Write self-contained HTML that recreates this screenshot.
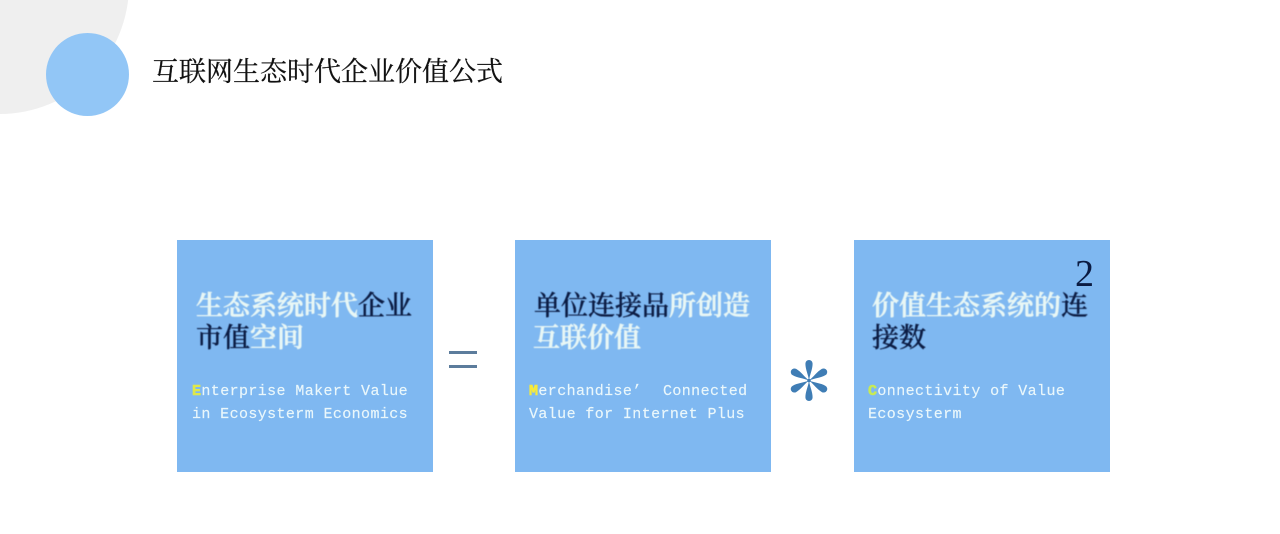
<!DOCTYPE html>
<html lang="zh">
<head>
<meta charset="utf-8">
<style>
html,body{margin:0;padding:0;background:#fff}
#p{position:relative;width:1280px;height:534px;overflow:hidden;background:#fff}
#p div{position:absolute}
.box{top:240px;width:256px;height:232px;background:#7fb8f1}
.t{font-family:"Liberation Serif","Noto Serif CJK SC",serif;white-space:nowrap}
.h{font-size:27px;line-height:32px;height:32px;font-weight:600;color:#e9f7f5;-webkit-text-stroke:.5px #e9f7f5;filter:blur(.4px)}
.h b{font-weight:500;color:#0b1b42;-webkit-text-stroke:.35px #0b1b42}
.e{font-family:"Liberation Mono",monospace;font-size:15px;letter-spacing:.39px;line-height:23px;height:23px;color:#eaf7fb;white-space:pre;-webkit-text-stroke:.15px #eaf7fb;filter:blur(.3px)}
.e span{font-weight:bold;-webkit-text-stroke:.6px currentColor}
</style>
</head>
<body>
<div id="p">
<div style="left:-129px;top:-144px;width:258px;height:258px;border-radius:50%;background:#efefef"></div>
<div style="left:46px;top:33px;width:83px;height:83px;border-radius:50%;background:#92c6f6"></div>
<div class="t" style="left:152px;top:56px;font-size:27px;line-height:32px;color:#111;-webkit-text-stroke:.25px #111">互联网生态时代企业价值公式</div>

<div class="box" style="left:177px"></div>
<div class="box" style="left:515px"></div>
<div class="box" style="left:854px"></div>

<div class="t h" style="left:196px;top:290px">生态系统时代<b>企业</b></div>
<div class="t h" style="left:196px;top:322px"><b>市值</b>空间</div>
<div class="e" style="left:192px;top:380px"><span style="color:#dfe84a">E</span>nterprise Makert Value</div>
<div class="e" style="left:192px;top:403px">in Ecosysterm Economics</div>

<div class="t h" style="left:534px;top:290px"><b>单位连接品</b>所创造</div>
<div class="t h" style="left:533px;top:322px">互联价值</div>
<div class="e" style="left:529px;top:380px"><span style="color:#f6ea3c">M</span>erchandise’  <span style="font-weight:normal;-webkit-text-stroke:.15px #eaf7fb;margin-left:2.5px">Connected</span></div>
<div class="e" style="left:529px;top:403px">Value for Internet Plus</div>

<div class="t h" style="left:872px;top:290px">价值生态系统的<b>连</b></div>
<div class="t h" style="left:872px;top:322px"><b>接数</b></div>
<div class="e" style="left:868px;top:380px"><span style="color:#c8ea55">C</span>onnectivity of Value</div>
<div class="e" style="left:868px;top:403px">Ecosysterm</div>

<div class="t" style="left:1075px;top:252px;font-size:38px;line-height:44px;color:#0b1b42">2</div>

<div style="left:449px;top:351px;width:28px;height:2.5px;background:#5c7c9c"></div>
<div style="left:449px;top:365px;width:28px;height:2.5px;background:#5c7c9c"></div>

<svg style="position:absolute;left:789px;top:358px" width="40" height="45" viewBox="-20 -22.5 40 45">
<g fill="#3f7db5">
<circle r="1.8"/>
<path d="M0 0C-.8 -6 -3.6 -11 -3.6 -16.9A3.6 3.6 0 0 1 3.6 -16.9C3.6 -11 .8 -6 0 0Z"/>
<path transform="rotate(60)" d="M0 0C-.8 -6 -3.6 -11 -3.6 -16.9A3.6 3.6 0 0 1 3.6 -16.9C3.6 -11 .8 -6 0 0Z"/>
<path transform="rotate(120)" d="M0 0C-.8 -6 -3.6 -11 -3.6 -16.9A3.6 3.6 0 0 1 3.6 -16.9C3.6 -11 .8 -6 0 0Z"/>
<path transform="rotate(180)" d="M0 0C-.8 -6 -3.6 -11 -3.6 -16.9A3.6 3.6 0 0 1 3.6 -16.9C3.6 -11 .8 -6 0 0Z"/>
<path transform="rotate(240)" d="M0 0C-.8 -6 -3.6 -11 -3.6 -16.9A3.6 3.6 0 0 1 3.6 -16.9C3.6 -11 .8 -6 0 0Z"/>
<path transform="rotate(300)" d="M0 0C-.8 -6 -3.6 -11 -3.6 -16.9A3.6 3.6 0 0 1 3.6 -16.9C3.6 -11 .8 -6 0 0Z"/>
</g>
</svg>
</div>
</body>
</html>
